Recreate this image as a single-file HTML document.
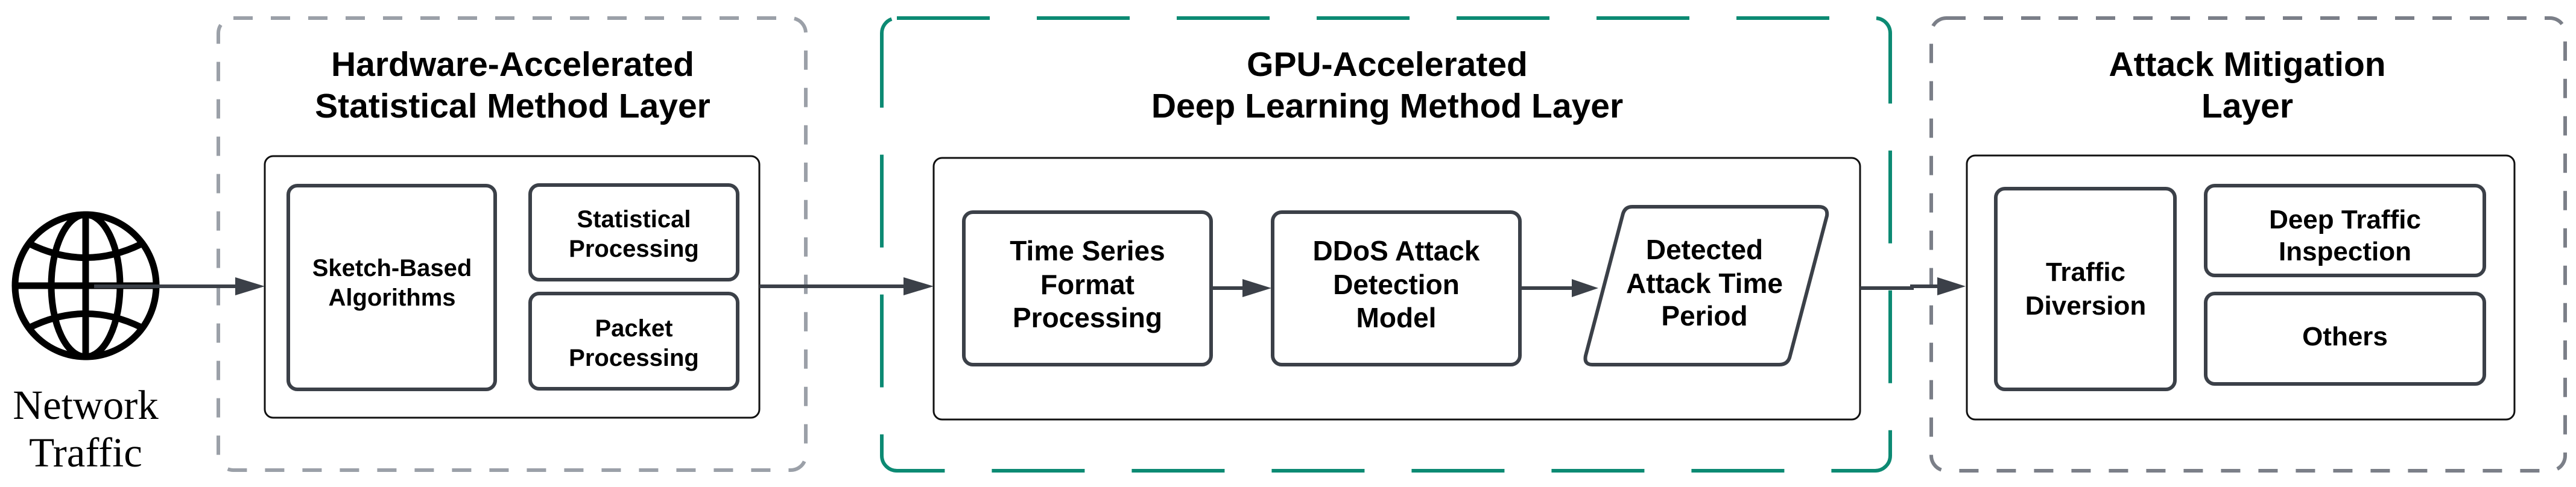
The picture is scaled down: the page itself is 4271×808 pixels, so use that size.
<!DOCTYPE html>
<html><head><meta charset="utf-8"><style>
html,body{margin:0;padding:0;background:#fff;}
svg{display:block;}
text{font-family:"Liberation Sans",sans-serif;font-weight:bold;fill:#000;text-anchor:middle;}
.t{font-size:57px;}
.n{font-size:40px;}
.m{font-size:46px;}
.r{font-size:44px;}
</style></head><body>
<svg width="4271" height="808" viewBox="0 0 4271 808" xmlns="http://www.w3.org/2000/svg">
<!-- layer containers -->
<rect x="362" y="30" width="974" height="750" rx="25" fill="none" stroke="#9ba0a8" stroke-width="6" stroke-dasharray="32 30"/>
<rect x="1462" y="30" width="1672" height="751" rx="25" fill="none" stroke="#0c8a73" stroke-width="6" stroke-dasharray="154 78"/>
<rect x="3202" y="30" width="1051" height="751" rx="25" fill="none" stroke="#7b7f88" stroke-width="6" stroke-dasharray="32 30"/>

<!-- titles -->
<text class="t" x="850" y="126">Hardware-Accelerated</text>
<text class="t" x="850" y="195">Statistical Method Layer</text>
<text class="t" x="2300" y="126">GPU-Accelerated</text>
<text class="t" x="2300" y="195">Deep Learning Method Layer</text>
<text class="t" x="3726" y="126">Attack Mitigation</text>
<text class="t" x="3726" y="195">Layer</text>

<!-- inner boxes -->
<rect x="439" y="259" width="820" height="434" rx="14" fill="#fff" stroke="#111" stroke-width="3"/>
<rect x="1548" y="262" width="1536" height="434" rx="14" fill="#fff" stroke="#111" stroke-width="3"/>
<rect x="3261" y="258" width="908" height="438" rx="14" fill="#fff" stroke="#111" stroke-width="3"/>

<!-- nodes -->
<g fill="#fff" stroke="#3b4048" stroke-width="6">
<rect x="478" y="308" width="343" height="338" rx="15"/>
<rect x="879" y="307" width="344" height="157" rx="15"/>
<rect x="879" y="487" width="344" height="158" rx="15"/>
<rect x="1598" y="352" width="410" height="253" rx="15"/>
<rect x="2110" y="352" width="410" height="253" rx="15"/>
<path d="M2706,343 L3015,343 Q3031,343 3029,358 L2968,590 Q2965,605 2950,605 L2640,605 Q2626,605 2629,590 L2690,358 Q2693,343 2706,343 Z"/>
<rect x="3309" y="313" width="297" height="333" rx="15"/>
<rect x="3657" y="308" width="462" height="149" rx="15"/>
<rect x="3657" y="487" width="462" height="150" rx="15"/>
</g>

<text class="n" x="650" y="458">Sketch-Based</text>
<text class="n" x="650" y="507">Algorithms</text>
<text class="n" x="1051" y="377">Statistical</text>
<text class="n" x="1051" y="426">Processing</text>
<text class="n" x="1051" y="558">Packet</text>
<text class="n" x="1051" y="607">Processing</text>

<text class="m" x="1803" y="432">Time Series</text>
<text class="m" x="1803" y="488">Format</text>
<text class="m" x="1803" y="543">Processing</text>
<text class="m" x="2315" y="432">DDoS Attack</text>
<text class="m" x="2315" y="488">Detection</text>
<text class="m" x="2315" y="543">Model</text>
<text class="m" x="2826" y="430">Detected</text>
<text class="m" x="2826" y="486">Attack Time</text>
<text class="m" x="2826" y="540">Period</text>

<text class="r" x="3458" y="466">Traffic</text>
<text class="r" x="3458" y="522">Diversion</text>
<text class="r" x="3888" y="379">Deep Traffic</text>
<text class="r" x="3888" y="432">Inspection</text>
<text class="r" x="3888" y="573">Others</text>

<!-- globe -->
<g fill="none" stroke="#000" stroke-width="11">
<ellipse cx="142" cy="474" rx="117" ry="118"/>
<ellipse cx="142" cy="474" rx="57" ry="118"/>
<line x1="142" y1="356" x2="142" y2="592"/>
<line x1="25" y1="474" x2="259" y2="474"/>
<path d="M50,405 Q142,450 234,405"/>
<path d="M50,543 Q142,498 234,543"/>
</g>
<text x="142" y="695" style="font-family:'Liberation Serif',serif;font-weight:normal;font-size:69px;">Network</text>
<text x="142" y="774" style="font-family:'Liberation Serif',serif;font-weight:normal;font-size:69px;">Traffic</text>

<!-- connectors -->
<g stroke="#3b4048" stroke-width="6" fill="none">
<line x1="156" y1="475" x2="392" y2="475"/>
<line x1="1259" y1="475" x2="1500" y2="475"/>
<line x1="2008" y1="478" x2="2062" y2="478"/>
<line x1="2520" y1="478" x2="2608" y2="478"/>
<path d="M3084,478 L3170,478 L3170,475 L3214,475"/>
</g>
<g fill="#3b4048">
<path d="M390,460 L439,475 L390,490 Z"/>
<path d="M1498,460 L1548,475 L1498,490 Z"/>
<path d="M2060,463 L2108,478 L2060,493 Z"/>
<path d="M2606,463 L2650,478 L2606,493 Z"/>
<path d="M3212,460 L3259,475 L3212,490 Z"/>
</g>
</svg>
</body></html>
